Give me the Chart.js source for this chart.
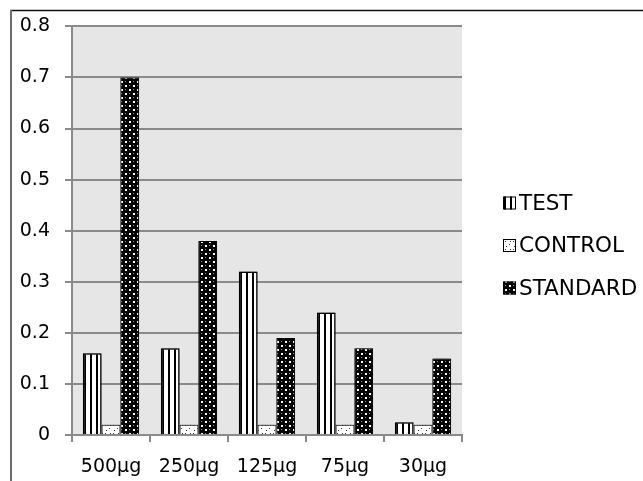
<!DOCTYPE html>
<html>
<head>
<meta charset="utf-8">
<title>Absorbance by dose</title>
<script src="https://cdn.jsdelivr.net/npm/chart.js@4/dist/chart.umd.min.js"></script>
<style>
  html, body { margin: 0; padding: 0; background: #ffffff; }
  #wrap { width: 643px; height: 481px; position: relative; }
</style>
</head>
<body>
<div id="wrap"><canvas id="chart" width="643" height="481"></canvas></div>
<script>
// Doses on the x axis
const categories = ['500µg', '250µg', '125µg', '75µg', '30µg'];
// Series values
const testValues = [0.16, 0.17, 0.32, 0.24, 0.025];
const controlValues = [0.02, 0.02, 0.02, 0.02, 0.02];
const standardValues = [0.70, 0.38, 0.19, 0.17, 0.15];
// Series names
const seriesNames = ['TEST', 'CONTROL', 'STANDARD'];
// Y axis range
const yMin = 0, yMax = 0.8, yStep = 0.1;

const FONT = '"DejaVu Sans", sans-serif';
const GRID = '#8a8a8a';

// Fill patterns for the bars
function makeTile(w, h, paint) {
  const c = document.createElement('canvas');
  c.width = w; c.height = h;
  paint(c.getContext('2d'));
  return c;
}
const ctx0 = document.getElementById('chart').getContext('2d');

const stripeTile = makeTile(6, 6, g => {
  g.fillStyle = '#ffffff'; g.fillRect(0, 0, 6, 6);
  g.fillStyle = '#000000'; g.fillRect(0, 0, 2, 6);
});
const speckTile = makeTile(8, 8, g => {
  g.fillStyle = '#ffffff'; g.fillRect(0, 0, 8, 8);
  g.fillStyle = '#333333';
  g.fillRect(1, 1, 1, 1); g.fillRect(5, 4, 1, 1); g.fillRect(2, 6, 1, 1); g.fillRect(6, 1, 1, 1);
});
const dotTile = makeTile(8, 8, g => {
  g.fillStyle = '#000000'; g.fillRect(0, 0, 8, 8);
  g.fillStyle = '#ffffff';
  g.fillRect(1, 1, 2, 2); g.fillRect(5, 5, 2, 2);
  g.fillStyle = '#9a9a9a';
  g.fillRect(5, 1, 1, 1); g.fillRect(1, 5, 1, 1);
});
const stripePattern = ctx0.createPattern(stripeTile, 'repeat');
const speckPattern = ctx0.createPattern(speckTile, 'repeat');
const dotPattern = ctx0.createPattern(dotTile, 'repeat');

// Grey plot background and the outer frame lines
const framePlugin = {
  id: 'frame',
  beforeDraw(chart) {
    const { ctx, chartArea: a } = chart;
    ctx.save();
    ctx.fillStyle = '#e6e6e6';
    ctx.fillRect(a.left, a.top, a.right - a.left, a.bottom - a.top);
    ctx.restore();
  },
  afterDraw(chart) {
    const { ctx } = chart;
    ctx.save();
    ctx.strokeStyle = '#111111';
    ctx.lineWidth = 1.5;
    ctx.beginPath();
    ctx.moveTo(10, 10.5); ctx.lineTo(chart.width, 10.5);
    ctx.stroke();
    ctx.strokeStyle = '#6e6e6e';
    ctx.lineWidth = 2;
    ctx.beginPath();
    ctx.moveTo(11, 10); ctx.lineTo(11, chart.height);
    ctx.stroke();
    ctx.restore();
  }
};

// Soft shadow behind the bars
const shadowPlugin = {
  id: 'barShadow',
  beforeDatasetsDraw(chart) {
    const ctx = chart.ctx;
    ctx.save();
    ctx.shadowColor = 'rgba(0,0,0,0.75)';
    ctx.shadowBlur = 10;
    ctx.shadowOffsetX = 0;
    ctx.shadowOffsetY = 0;
  },
  afterDatasetsDraw(chart) {
    chart.ctx.restore();
  }
};

// Legend on the right side
const sideLegend = {
  id: 'sideLegend',
  afterDraw(chart) {
    const { ctx, chartArea: a } = chart;
    const x = a.right + 41;
    const gap = 42.5;
    const cy = chart.height / 2 + 5;
    ctx.save();
    ctx.font = '21.5px ' + FONT;
    ctx.textBaseline = 'middle';
    chart.data.datasets.forEach((ds, i) => {
      const y = cy + (i - 1) * gap;
      const box = 13;
      ctx.fillStyle = ds.backgroundColor;
      ctx.fillRect(x, y - box / 2, box, box);
      ctx.strokeStyle = '#000000';
      ctx.lineWidth = 1;
      ctx.strokeRect(x + 0.5, y - box / 2 + 0.5, box - 1, box - 1);
      ctx.fillStyle = '#000000';
      ctx.fillText(ds.label, x + box + 3, y + 1);
    });
    ctx.restore();
  }
};

new Chart(ctx0, {
  type: 'bar',
  data: {
    labels: categories,
    datasets: [
      { label: seriesNames[0], data: testValues, backgroundColor: stripePattern, borderColor: '#000000', borderWidth: 1.5 },
      { label: seriesNames[1], data: controlValues, backgroundColor: speckPattern, borderColor: '#222222', borderWidth: 1 },
      { label: seriesNames[2], data: standardValues, backgroundColor: dotPattern, borderColor: '#000000', borderWidth: 1 }
    ]
  },
  options: {
    responsive: false,
    animation: false,
    devicePixelRatio: 1,
    layout: { padding: { left: 10, top: 24, right: 181, bottom: 0 } },
    datasets: { bar: { categoryPercentage: 0.72, barPercentage: 1.0 } },
    plugins: {
      legend: { display: false },
      tooltip: { enabled: false }
    },
    scales: {
      x: {
        afterFit(scale) { scale.height = 46; },
        grid: { drawOnChartArea: false, drawTicks: true, tickLength: 7, color: GRID, lineWidth: 2, offset: true },
        border: { display: true, color: GRID, width: 2 },
        ticks: { font: { family: FONT, size: 19 }, color: '#000000', padding: 14 }
      },
      y: {
        min: yMin,
        max: yMax,
        afterFit(scale) { scale.width = 62; },
        grid: { color: GRID, lineWidth: 2, tickLength: 7 },
        border: { display: true, color: GRID, width: 2 },
        ticks: {
          stepSize: yStep,
          font: { family: FONT, size: 19 },
          color: '#000000',
          padding: 15,
          callback: v => String(+v.toFixed(1))
        }
      }
    }
  },
  plugins: [framePlugin, shadowPlugin, sideLegend]
});
</script>
</body>
</html>
